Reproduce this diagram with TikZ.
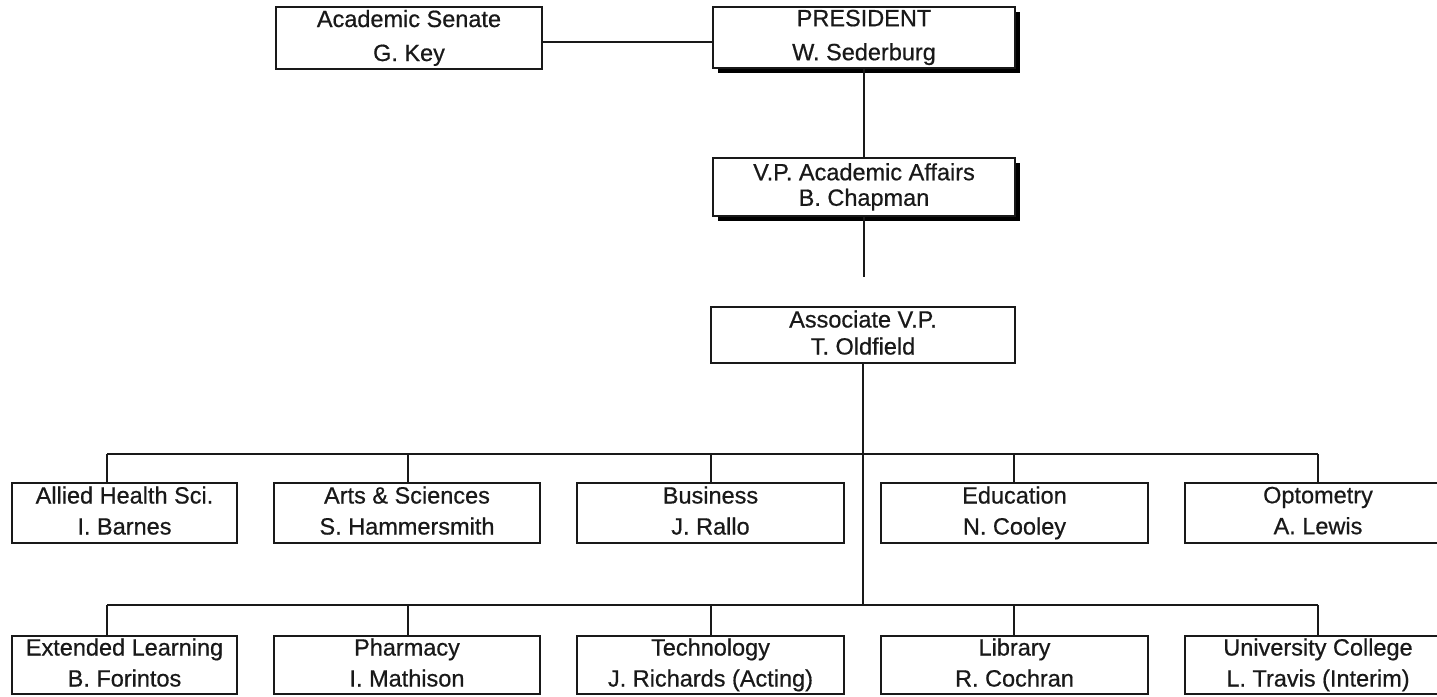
\documentclass[tikz,border=0pt]{standalone}
\usepackage{fontspec}
\setmainfont{Liberation Sans}
\newfontfamily\boxfont{Liberation Sans}[FakeBold=0.6]
\usetikzlibrary{shadows}
\begin{document}
\begin{tikzpicture}[x=1pt,y=-1pt,
  box/.style={draw=black!90, line width=1.3pt, fill=white, rectangle, inner sep=0pt, align=center, text=black!90, text depth=5pt},
  topf/.style={font=\boxfont\fontsize{23.5}{34}\selectfont},
  vpf/.style={font=\boxfont\fontsize{23.5}{25.5}\selectfont},
  asf/.style={font=\boxfont\fontsize{23.5}{27}\selectfont},
  rowf/.style={font=\boxfont\fontsize{23.5}{31}\selectfont},
  wide/.style={minimum width=267pt},
  r1/.style={box, rowf, minimum height=60pt},
  r2/.style={box, rowf, minimum height=58pt},
  conn/.style={draw=black!90, line width=1.3pt},
  shad/.style={drop shadow={shadow xshift=5pt, shadow yshift=-5pt, fill=black, opacity=1}}]
\useasboundingbox (0,0) rectangle (1437,696);
\clip (0,0) rectangle (1437,696);

% top levels
\node[box, topf, minimum width=266pt, minimum height=62pt] (senate) at (409,38) {Academic Senate\\G. Key};
\node[box, topf, shad, minimum width=302pt, minimum height=61pt] (pres) at (864,37.5) {PRESIDENT\\W. Sederburg};
\node[box, vpf, shad, minimum width=302pt, minimum height=58pt] (vp) at (864,187) {V.P. Academic Affairs\\B. Chapman};
\node[box, asf, minimum width=304pt, minimum height=56pt] (assoc) at (863,335) {Associate V.P.\\T. Oldfield};

% row 1
\node[r1, minimum width=225pt] (allied) at (124.5,513) {Allied Health Sci.\\I. Barnes};
\node[r1, minimum width=266pt] (arts) at (407,513) {Arts \& Sciences\\S. Hammersmith};
\node[r1, wide] (bus) at (710.5,513) {Business\\J. Rallo};
\node[r1, wide] (edu) at (1014.5,513) {Education\\N. Cooley};
\node[r1, minimum width=266pt] (opto) at (1318,513) {Optometry\\A. Lewis};

% row 2
\node[r2, minimum width=225pt] (ext) at (124.5,665) {Extended Learning\\B. Forintos};
\node[r2, minimum width=266pt] (pharm) at (407,665) {Pharmacy\\I. Mathison};
\node[r2, wide] (tech) at (710.5,665) {Technology\\J. Richards (Acting)};
\node[r2, wide] (lib) at (1014.5,665) {Library\\R. Cochran};
\node[r2, minimum width=266pt] (univ) at (1318,665) {University College\\L. Travis (Interim)};

% coordinates
\coordinate (gap) at (864,277);
\coordinate (busA) at (107,454);
\coordinate (busB) at (1318,454);
\coordinate (busC) at (107,605);
\coordinate (busD) at (1318,605);
\coordinate (d1) at (107,0);
\coordinate (d2) at (408,0);
\coordinate (d3) at (711,0);
\coordinate (d4) at (1014,0);
\coordinate (d5) at (1318,0);

% connectors
\draw[conn] ([yshift=-4pt]senate.east) -- ([yshift=-4pt]senate.east -| pres.west);
\draw[conn] (pres.south) -- (vp.north);
\draw[conn] (vp.south) -- (gap);
\draw[conn] (assoc.south) -- (assoc.south |- busC);
\draw[conn] (busA) -- (busB);
\draw[conn] (busC) -- (busD);
\draw[conn] (d1 |- busA) -- (d1 |- allied.north);
\draw[conn] (d2 |- busA) -- (d2 |- arts.north);
\draw[conn] (d3 |- busA) -- (d3 |- bus.north);
\draw[conn] (d4 |- busA) -- (d4 |- edu.north);
\draw[conn] (d5 |- busA) -- (d5 |- opto.north);
\draw[conn] (d1 |- busC) -- (d1 |- ext.north);
\draw[conn] (d2 |- busC) -- (d2 |- pharm.north);
\draw[conn] (d3 |- busC) -- (d3 |- tech.north);
\draw[conn] (d4 |- busC) -- (d4 |- lib.north);
\draw[conn] (d5 |- busC) -- (d5 |- univ.north);
\end{tikzpicture}
\end{document}
